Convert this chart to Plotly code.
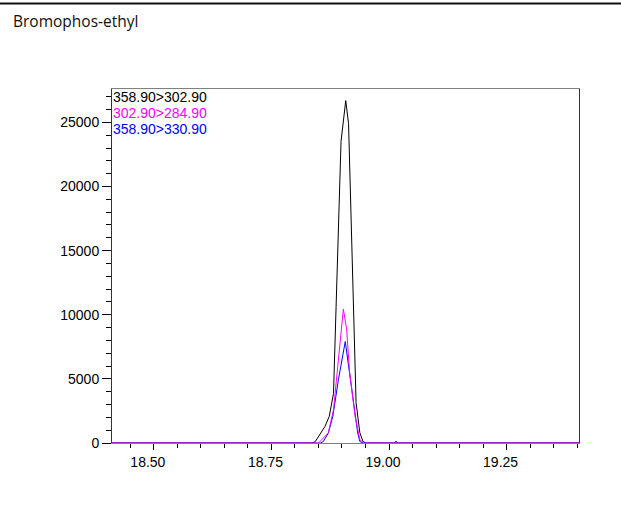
import plotly.graph_objects as go

# retention time (min) / intensity for the three MRM transitions
time_black = [18.411, 18.70, 18.836, 18.843, 18.850, 18.857, 18.864, 18.873, 18.882,
              18.898, 18.908, 18.914, 18.930, 18.938, 18.945, 18.952, 19.010, 19.015,
              19.020, 19.404]
int_black = [0, 0, 0, 100, 500, 900, 1300, 2080, 3870,
             23500, 26700, 24900, 3140, 800, 100, 0, 0, 120,
             0, 0]

time_magenta = [18.411, 18.850, 18.857, 18.871, 18.882, 18.8945, 18.903, 18.910,
                18.916, 18.928, 18.938, 18.946, 19.404]
int_magenta = [0, 0, 250, 800, 2600, 7540, 10440, 8830,
               5600, 2070, 260, 0, 0]

time_blue = [18.411, 18.854, 18.8605, 18.871, 18.8805, 18.8924, 18.907, 18.917,
             18.9335, 18.938, 18.945, 19.404]
int_blue = [0, 0, 120, 780, 2070, 4930, 7910, 5190,
            780, 120, 0, 0]

labels = ["358.90>302.90", "302.90>284.90", "358.90>330.90"]
COLORS = ["#000000", "#FF00FF", "#0000FF"]
TITLE = "Bromophos-ethyl"

# plot area geometry (px)
W, H = 621, 523
L, R, T, B = 112, 42, 89, 80
pw, ph = W - L - R, H - T - B

fig = go.Figure()
fig.add_trace(go.Scatter(x=time_black, y=int_black, mode="lines",
                         line=dict(color=COLORS[0], width=1), name=labels[0]))
fig.add_trace(go.Scatter(x=time_blue, y=int_blue, mode="lines",
                         line=dict(color=COLORS[2], width=1), name=labels[2]))
fig.add_trace(go.Scatter(x=time_magenta, y=int_magenta, mode="lines",
                         line=dict(color=COLORS[1], width=1), name=labels[1]))

# legend-like text in upper left corner of the plot
for i, (txt, col) in enumerate(zip(labels, COLORS)):
    fig.add_annotation(x=0, y=1 - (16 * i - 1) / ph, xref="paper", yref="paper",
                       xanchor="left", yanchor="top", showarrow=False,
                       text=txt, font=dict(color=col, size=14, family="Liberation Sans"),
                       borderpad=0)

# compound name at top left of the panel
fig.add_annotation(x=-(L - 11) / pw, y=1 + (T - 8) / ph, xref="paper", yref="paper",
                   xanchor="left", yanchor="top", showarrow=False, text=TITLE,
                   font=dict(size=15.5, color="#111111", family="Open Sans"))

# panel border line at the very top
fig.add_shape(type="line", xref="paper", yref="paper",
              x0=-L / pw, x1=1 + R / pw, y0=1 + (T - 3.5) / ph, y1=1 + (T - 3.5) / ph,
              line=dict(color="#111111", width=2))

fig.update_layout(
    width=W, height=H,
    margin=dict(l=L, r=R, t=T, b=B),
    plot_bgcolor="white", paper_bgcolor="white",
    showlegend=False,
    font=dict(family="Liberation Sans", size=14, color="#000000"),
    xaxis=dict(range=[18.411, 19.404], tick0=18.5, dtick=0.25, tickformat=".2f",
               showgrid=False, zeroline=False, showline=True, linecolor="#808080",
               linewidth=1, mirror=True, ticks="outside", ticklen=6,
               tickcolor="#000000", tickfont=dict(size=14), ticklabelshift=-6,
               minor=dict(dtick=0.05, ticks="outside", ticklen=4, tickcolor="#000000")),
    yaxis=dict(range=[0, 27600], tick0=0, dtick=5000, tickformat="d",
               showgrid=False, zeroline=False, showline=True, linecolor="#333333",
               linewidth=1, mirror=True, ticks="outside", ticklen=9,
               tickcolor="#000000", tickfont=dict(size=14),
               minor=dict(dtick=1000, ticks="outside", ticklen=5, tickcolor="#000000")),
)

fig.write_html("out.html", config={"displayModeBar": False},
               post_script="document.body.style.margin = '0';")
